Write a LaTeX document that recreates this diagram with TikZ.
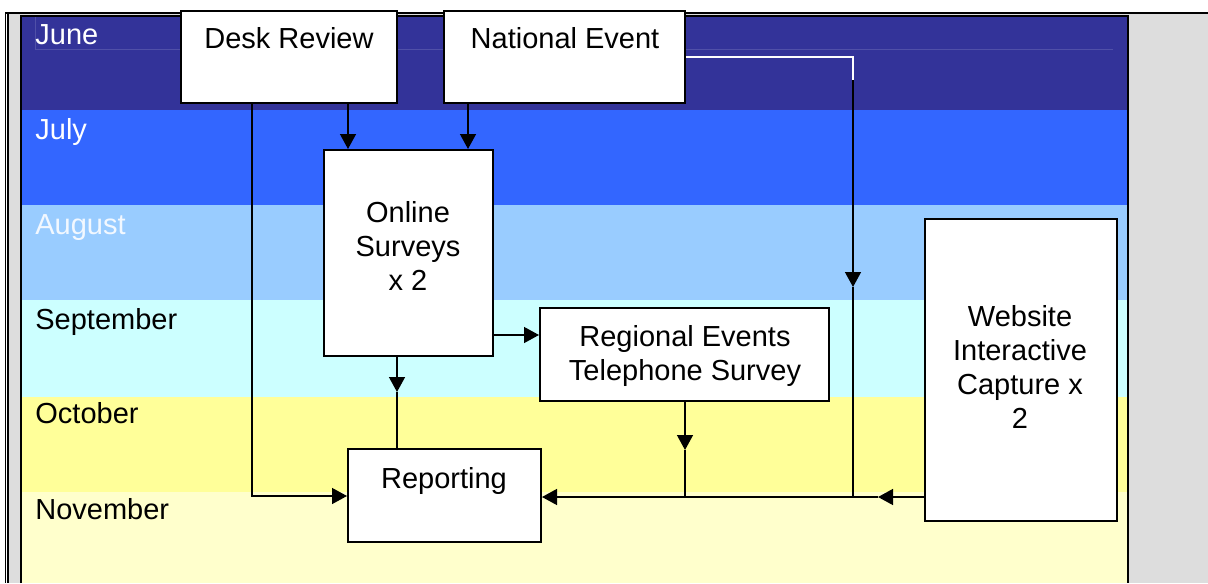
\documentclass[tikz,border=0pt]{standalone}
\usepackage{fontspec}
\setmainfont{Liberation Sans}
\usetikzlibrary{arrows.meta,fit}
\definecolor{cjune}{HTML}{333399}
\definecolor{cjuly}{HTML}{3366FF}
\definecolor{caug}{HTML}{99CCFF}
\definecolor{csep}{HTML}{CCFFFF}
\definecolor{coct}{HTML}{FFFF99}
\definecolor{cnov}{HTML}{FFFFCC}
\definecolor{cgray}{HTML}{DDDDDD}
\definecolor{cfaint}{HTML}{5050A8}
\definecolor{caugtxt}{HTML}{F2F8FF}
\begin{document}
\begin{tikzpicture}[x=0.5pt,y=-0.5pt,
  box/.style={draw=black,line width=1pt,fill=white,inner sep=0pt},
  txt/.style={font=\fontsize{14.5}{17}\selectfont,align=center,inner sep=0pt},
  month/.style={font=\fontsize{14.5}{17}\selectfont,anchor=base west,inner sep=0pt},
  conn/.style={line width=0.7pt},
  arr/.style={conn,-{Triangle[length=7.5pt,width=8pt]}}]
\useasboundingbox (0,0) rectangle (1208,583);
\fill[white] (0,0) rectangle (1208,583);
\fill[cgray] (8,14) rectangle (1208,583);
% month bands
\fill[cjune] (21,16) rectangle (1128,110);
\fill[cjuly] (21,110) rectangle (1128,205);
\fill[caug] (21,205) rectangle (1128,300);
\fill[csep] (21,300) rectangle (1128,397);
\fill[coct] (21,397) rectangle (1128,492);
\fill[cnov] (21,492) rectangle (1128,583);
\draw[cfaint,line width=0.5pt] (35,17) -- (35,50) -- (1113,50);
% frames
\draw[line width=1pt] (21,583) -- (21,16) -- (1128,16) -- (1128,583);
\draw[line width=1.2pt] (5,13) -- (1208,13);
\draw[line width=0.6pt] (5.5,12.5) -- (5.5,583);
\draw[line width=0.6pt] (8,13) -- (8,583);
% month labels
\node[month,text=white] (mjun) at (35,44.5) {June};
\node[month,text=white] (mjul) at (35,139.5) {July};
\node[month,text=caugtxt] (maug) at (35,234.5) {August};
\node[month] (msep) at (35,329.5) {September};
\node[month] (moct) at (35,423.5) {October};
\node[month] (mnov) at (35,519.5) {November};
% boxes
\node[box,fit={(181,11) (397,103)}] (dr) {};
\node[box,fit={(444,11) (685,103)}] (ne) {};
\node[box,fit={(324,150) (493,356)}] (os) {};
\node[box,fit={(540,308) (829,401)}] (re) {};
\node[box,fit={(348,449) (541,542)}] (rp) {};
\node[box,fit={(925,219) (1117,521)}] (wi) {};
\node[txt,anchor=base] (tdr) at (289,49) {Desk Review};
\node[txt,anchor=base] (tne) at (565,49) {National Event};
\node[txt] (tos) at (408,246) {Online\\Surveys\\x 2};
\node[txt] (tre) at (685,356) {Regional Events\\Telephone Survey};
\node[txt,anchor=base] (trp) at (444,488) {Reporting};
\node[txt] (twi) at (1020,366.5) {Website\\Interactive\\Capture x\\2};
% helper coordinates
\coordinate (xa) at (348,0);
\coordinate (xb) at (468,0);
\coordinate (xc) at (252,0);
\coordinate (xd) at (397,0);
\coordinate (xe) at (685,0);
\coordinate (xf) at (853,0);
\coordinate (xg) at (878,0);
\coordinate (ya) at (0,496);
\coordinate (yb) at (0,335);
\coordinate (yc) at (0,392);
\coordinate (yd) at (0,450);
\coordinate (ye) at (0,497);
\coordinate (yf) at (0,57);
\coordinate (yg) at (0,80);
\coordinate (yh) at (0,287);
% connectors
\draw[arr] (dr.south -| xa) -- (os.north -| xa);
\draw[arr] (ne.south -| xb) -- (os.north -| xb);
\draw[arr] (dr.south -| xc) -- (xc |- ya) -- (rp.west |- ya);
\draw[arr] (os.east |- yb) -- (re.west |- yb);
\draw[arr] (os.south -| xd) -- (xd |- yc);
\draw[conn] (xd |- yc) -- (rp.north -| xd);
\draw[arr] (re.south -| xe) -- (xe |- yd);
\draw[conn] (xe |- yd) -- (xe |- ye);
\draw[conn,white] (ne.east |- yf) -- (xf |- yf) -- (xf |- yg);
\draw[arr] (xf |- yg) -- (xf |- yh);
\draw[conn] (xf |- yh) -- (xf |- ye);
\draw[arr] (wi.west |- ye) -- (xg |- ye);
\draw[arr] (xg |- ye) -- (rp.east |- ye);
\end{tikzpicture}
\end{document}
